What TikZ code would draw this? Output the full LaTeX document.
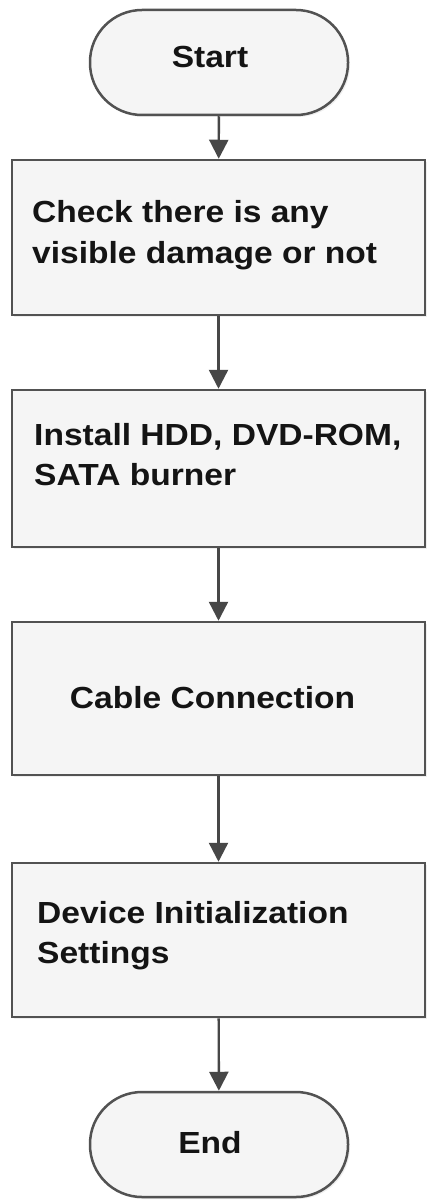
\documentclass[tikz,border=0pt]{standalone}
\usepackage{fontspec}
\setmainfont{Liberation Sans}[FakeStretch=1.1]
\usetikzlibrary{arrows.meta,shadows}
\begin{document}
\begin{tikzpicture}[x=1pt,y=-1pt,
  shapebase/.style={draw=black!68, line width=2.5pt, fill=black!4,
    drop shadow={opacity=0.12, shadow xshift=2pt, shadow yshift=-2pt}},
  boxstyle/.style={shapebase, minimum width=413pt, inner sep=0pt},
  termstyle/.style={shapebase, minimum width=258pt, minimum height=105pt,
    rounded corners=52pt, inner sep=0pt},
  label/.style={inner sep=0pt, font=\bfseries\fontsize{30.5}{41}\selectfont, text=black!92},
  arr/.style={draw=black!72, line width=2.4pt, -{Triangle[width=19pt,length=19pt]}}]
\useasboundingbox (0,0) rectangle (432,1204);
\fill[white] (0,0) rectangle (432,1204);
\node[termstyle] (start) at (219,62.5) {};
\node[boxstyle, minimum height=155pt] (b1) at (218.5,237.5) {};
\node[boxstyle, minimum height=157pt] (b2) at (218.5,468.5) {};
\node[boxstyle, minimum height=153pt] (b3) at (218.5,698.5) {};
\node[boxstyle, minimum height=154pt] (b4) at (218.5,940) {};
\node[termstyle] (end) at (219,1144.5) {};
\node[label, anchor=base] (tstart) at (210,68) {Start};
\node[label, anchor=base west] (t1a) at (32,222) {Check there is any};
\node[label, anchor=base west] (t1b) at (32,263) {visible damage or not};
\node[label, anchor=base west] (t2a) at (34,445) {Install HDD, DVD-ROM,};
\node[label, anchor=base west] (t2b) at (34,485) {SATA burner};
\node[label, anchor=base] (t3) at (212.5,708) {Cable Connection};
\node[label, anchor=base west] (t4a) at (37,923) {Device Initialization};
\node[label, anchor=base west] (t4b) at (37,963) {Settings};
\node[label, anchor=base] (tend) at (210,1153) {End};
\draw[arr] (start) -- (b1);
\draw[arr] (b1) -- (b2);
\draw[arr] (b2) -- (b3);
\draw[arr] (b3) -- (b4);
\draw[arr] (b4) -- (end);
\end{tikzpicture}
\end{document}
